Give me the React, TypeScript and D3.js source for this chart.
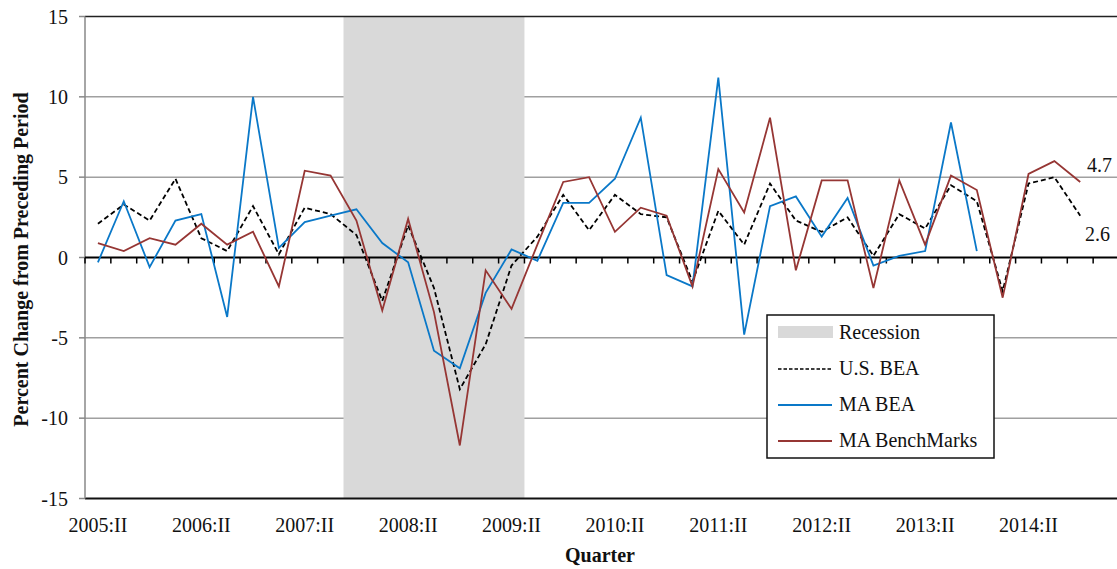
import * as d3 from 'd3';

const quarters = [
  '2005:II', '2005:III', '2005:IV', '2006:I', '2006:II', '2006:III', '2006:IV', '2007:I',
  '2007:II', '2007:III', '2007:IV', '2008:I', '2008:II', '2008:III', '2008:IV', '2009:I',
  '2009:II', '2009:III', '2009:IV', '2010:I', '2010:II', '2010:III', '2010:IV', '2011:I',
  '2011:II', '2011:III', '2011:IV', '2012:I', '2012:II', '2012:III', '2012:IV', '2013:I',
  '2013:II', '2013:III', '2013:IV', '2014:I', '2014:II', '2014:III', '2014:IV', '2015:I',
];

const tickQuarters = ['2005:II', '2006:II', '2007:II', '2008:II', '2009:II', '2010:II', '2011:II', '2012:II', '2013:II', '2014:II'];
const yTicks = [-15, -10, -5, 0, 5, 10, 15];
const recession = ['2007:IV', '2009:II'];

const usBea = [
  2.1, 3.3, 2.3, 4.9, 1.2, 0.4, 3.2, 0.2, 3.1, 2.7, 1.4, -2.7, 2.0, -1.9, -8.2, -5.4, -0.5, 1.3, 3.9, 1.7,
  3.9, 2.7, 2.5, -1.5, 2.9, 0.8, 4.6, 2.3, 1.6, 2.5, 0.1, 2.7, 1.8, 4.5, 3.5, -2.1, 4.6, 5.0, 2.6,
];
const maBea = [
  -0.3, 3.5, -0.6, 2.3, 2.7, -3.7, 10.0, 0.6, 2.2, 2.6, 3.0, 0.9, -0.3, -5.8, -6.9, -2.2, 0.5, -0.2, 3.4, 3.4,
  4.9, 8.7, -1.1, -1.8, 11.2, -4.8, 3.2, 3.8, 1.3, 3.7, -0.5, 0.1, 0.4, 8.4, 0.4,
];
const maBenchmarks = [
  0.9, 0.4, 1.2, 0.8, 2.1, 0.8, 1.6, -1.8, 5.4, 5.1, 2.3, -3.3, 2.4, -3.4, -11.7, -0.8, -3.2, 0.8, 4.7, 5.0,
  1.6, 3.1, 2.6, -1.8, 5.5, 2.8, 8.7, -0.8, 4.8, 4.8, -1.9, 4.8, 0.8, 5.1, 4.2, -2.5, 5.2, 6.0, 4.7,
];

const W = 1117;
const H = 569;
const margin = { top: 16.5, left: 85, right: 1119, bottom: 498.5 };
const font = '"Liberation Serif", "Times New Roman", serif';

const series = [
  { name: 'U.S. BEA', values: usBea, color: '#000000', dash: '5,3' },
  { name: 'MA BEA', values: maBea, color: '#0a78c8', dash: null },
  { name: 'MA BenchMarks', values: maBenchmarks, color: '#963634', dash: null },
];

export default function App() {
  const x = d3.scaleBand<string>().domain(quarters).range([margin.left, margin.right]).padding(0);
  const y = d3.scaleLinear().domain([-15, 15]).range([margin.bottom, margin.top]);
  const cx = (i: number) => (x(quarters[i]) as number) + x.bandwidth() / 2;

  const line = d3
    .line<number>()
    .x((_, i) => cx(i))
    .y((d) => y(d));

  const recX0 = x(recession[0]) as number;
  const recX1 = (x(recession[1]) as number) + x.bandwidth();

  const legendX = 767;
  const legendY = 315;
  const rowY = (k: number) => legendY + 17 + k * 36;

  return (
    <svg width={W} height={H} style={{ position: 'absolute', left: 0, top: 0, background: '#fff' }}>
      {/* gridlines */}
      {yTicks.filter((t) => t !== 0 && Math.abs(t) !== 15).map((t) => (
        <line key={t} x1={margin.left} x2={W} y1={y(t)} y2={y(t)} stroke="#a0a0a0" strokeWidth={1.5} />
      ))}
      <rect x={recX0} y={margin.top} width={recX1 - recX0} height={margin.bottom - margin.top} fill="#d9d9d9" />
      <line x1={margin.left} x2={W} y1={y(15)} y2={y(15)} stroke="#222" strokeWidth={1.5} />
      <line x1={margin.left} x2={W} y1={y(-15)} y2={y(-15)} stroke="#111" strokeWidth={2} />
      {/* y axis */}
      <line x1={margin.left} x2={margin.left} y1={margin.top} y2={margin.bottom} stroke="#888" strokeWidth={1.5} />
      {yTicks.map((t) => (
        <g key={t}>
          <line x1={margin.left - 6} x2={margin.left} y1={y(t)} y2={y(t)} stroke="#888" strokeWidth={1.5} />
          <text x={68} y={y(t) + 7} textAnchor="end" fontFamily={font} fontSize={20} fill="#111">
            {t}
          </text>
        </g>
      ))}
      {/* zero axis with quarter ticks */}
      <line x1={margin.left} x2={W} y1={y(0)} y2={y(0)} stroke="#000" strokeWidth={2} />
      {quarters.map((q) => (
        <line key={q} x1={x(q)} x2={x(q)} y1={y(0)} y2={y(0) + 6} stroke="#000" strokeWidth={1.5} />
      ))}
      {/* series */}
      {series.map((s) => (
        <path
          key={s.name}
          d={line(s.values) || ''}
          fill="none"
          stroke={s.color}
          strokeWidth={1.8}
          strokeDasharray={s.dash || undefined}
          strokeLinejoin="miter"
        />
      ))}
      {/* end labels */}
      <text x={1087} y={172} fontFamily={font} fontSize={20} fill="#111">
        {maBenchmarks[maBenchmarks.length - 1].toFixed(1)}
      </text>
      <text x={1085} y={241} fontFamily={font} fontSize={20} fill="#111">
        {usBea[usBea.length - 1].toFixed(1)}
      </text>
      {/* x tick labels */}
      {tickQuarters.map((q) => (
        <text
          key={q}
          x={(x(q) as number) + x.bandwidth() / 2}
          y={532}
          textAnchor="middle"
          fontFamily={font}
          fontSize={20}
          fill="#111"
        >
          {q}
        </text>
      ))}
      {/* legend */}
      <rect x={legendX} y={legendY} width={227} height={143} fill="#fff" stroke="#111" strokeWidth={1.5} />
      <rect x={778} y={rowY(0) - 6} width={55} height={12} fill="#d9d9d9" />
      <text x={839} y={rowY(0) + 7} fontFamily={font} fontSize={20} fill="#111">
        Recession
      </text>
      {series.map((s, k) => (
        <g key={s.name}>
          <line
            x1={778}
            x2={832}
            y1={rowY(k + 1) + 1}
            y2={rowY(k + 1) + 1}
            stroke={s.color}
            strokeWidth={s.dash ? 1.5 : 2}
            strokeDasharray={s.dash ? '3.5,2' : undefined}
          />
          <text x={839} y={rowY(k + 1) + 7} fontFamily={font} fontSize={20} fill="#111">
            {s.name}
          </text>
        </g>
      ))}
      {/* axis titles */}
      <text
        transform={`translate(28,${(margin.top + margin.bottom) / 2 + 2}) rotate(-90)`}
        textAnchor="middle"
        fontFamily={font}
        fontSize={20}
        fontWeight="bold"
        fill="#111"
      >
        Percent Change from Preceding Period
      </text>
      <text x={600} y={562} textAnchor="middle" fontFamily={font} fontSize={20} fontWeight="bold" fill="#111">
        Quarter
      </text>
    </svg>
  );
}
